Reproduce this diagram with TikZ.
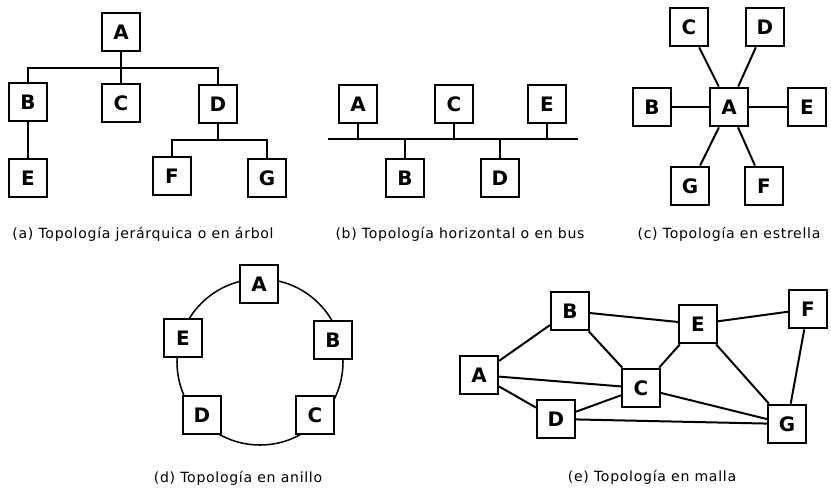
\documentclass[tikz,border=0pt]{standalone}
\usepackage{fontspec}
\setmainfont{DejaVu Sans}
\newfontfamily\capfont[LetterSpace=5]{DejaVu Sans}
\usetikzlibrary{positioning,calc}

\begin{document}
\begin{tikzpicture}[x=0.03cm, y=-0.03cm,
  box/.style={draw, line width=1.8pt, fill=white, minimum width=11.4mm, minimum height=11.6mm, inner sep=0pt, font=\fontsize{17}{17}\selectfont\bfseries},
  caption/.style={inner sep=1pt, font=\capfont\fontsize{12}{13}\selectfont},
  link/.style={line width=1.7pt},
  thinlink/.style={line width=1pt}]
\useasboundingbox (0,0) rectangle (831,494);

% (a) arbol
\node[box] (tA) at (121,32) {A};
\node[box] (tB) at (28,102) {B};
\node[box] (tC) at (121,103) {C};
\node[box] (tD) at (218,104) {D};
\node[box] (tE) at (28,178) {E};
\node[box] (tF) at (172,176) {F};
\node[box] (tG) at (267,178) {G};
\coordinate (ta) at (121,68);
\coordinate (td) at (218,140);
\draw[link] (tA) -- (ta) -- (tC);
\draw[link] (tB.north) |- (ta) -| (tD.north);
\draw[link] (tD) -- (td);
\draw[link] (tF.north) |- (td) -| (tG.north);
\draw[link] (tB) -- (tE);
\node[caption] (capA) at (143,234) {(a) Topología jerárquica o en árbol};

% (b) bus
\node[box] (bA) at (358,104) {A};
\node[box] (bC) at (454,104) {C};
\node[box] (bE) at (547,104) {E};
\node[box] (bB) at (405,178) {B};
\node[box] (bD) at (500,178) {D};
\coordinate (busL) at (328,139);
\coordinate (busR) at (578,139);
\draw[link] (busL) -- (busR);
\foreach \n in {bA,bC,bE,bB,bD}
  \draw[link] (\n) -- (\n |- busL);
\node[caption] (capB) at (460,234) {(b) Topología horizontal o en bus};

% (c) estrella
\node[box] (sA) at (729,107) {A};
\node[box] (sB) at (652,107) {B};
\node[box] (sC) at (689,27) {C};
\node[box] (sD) at (765,27) {D};
\node[box] (sE) at (807,107) {E};
\node[box] (sF) at (764,186) {F};
\node[box] (sG) at (690,186) {G};
\foreach \n in {sC,sD,sF,sG}
  \draw[link] (sA) -- (\n);
\draw[thinlink] (sB) -- (sA) -- (sE);
\node[caption] (capC) at (729,234) {(c) Topología en estrella};

% (d) anillo
\coordinate (rc) at (260,362);
\draw[line width=1.3pt] (rc) circle[radius=2.49cm];
\node[box] (rA) at (259,284) {A};
\node[box] (rB) at (333,340) {B};
\node[box] (rC) at (315,415) {C};
\node[box] (rD) at (202,415) {D};
\node[box] (rE) at (183,338) {E};
\node[caption] (capD) at (238,478) {(d) Topología en anillo};

% (e) malla
\node[box] (mA) at (479,375) {A};
\node[box] (mB) at (570,311) {B};
\node[box] (mC) at (641,388) {C};
\node[box] (mD) at (556,419) {D};
\node[box] (mE) at (698,324) {E};
\node[box] (mF) at (808,309) {F};
\node[box] (mG) at (787,424) {G};
\foreach \a/\b in {mA/mB,mA/mC,mA/mD,mB/mE,mB/mC,mE/mF,mE/mC,mE/mG,mF/mG,mC/mG,mC/mD,mD/mG}
  \draw[link] (\a) -- (\b);
\node[caption] (capE) at (652,477) {(e) Topología en malla};
\end{tikzpicture}
\end{document}
